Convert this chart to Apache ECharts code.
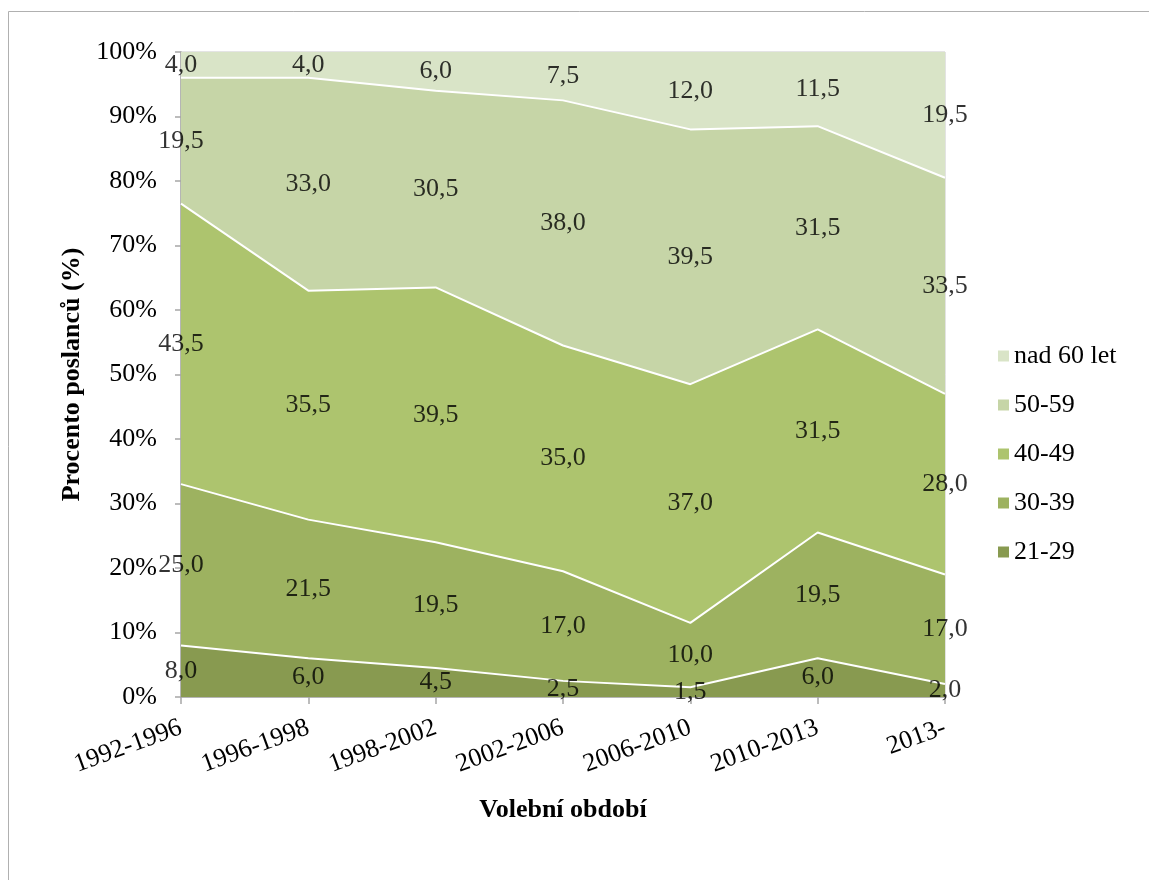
<!DOCTYPE html>
<html>
<head>
<meta charset="utf-8">
<script src="https://cdn.jsdelivr.net/npm/echarts@6/dist/echarts.min.js"></script>
<style>
html,body{margin:0;padding:0;background:#fff;}
#chart{width:1149px;height:880px;}
</style>
</head>
<body>
<div id="chart"></div>
<script>
const categories = ['1992-1996','1996-1998','1998-2002','2002-2006','2006-2010','2010-2013','2013-'];
const s2129 = [8.0, 6.0, 4.5, 2.5, 1.5, 6.0, 2.0];
const s3039 = [25.0, 21.5, 19.5, 17.0, 10.0, 19.5, 17.0];
const s4049 = [43.5, 35.5, 39.5, 35.0, 37.0, 31.5, 28.0];
const s5059 = [19.5, 33.0, 30.5, 38.0, 39.5, 31.5, 33.5];
const s60 = [4.0, 4.0, 6.0, 7.5, 12.0, 11.5, 19.5];
const seriesNames = ['21-29','30-39','40-49','50-59','nad 60 let'];
const seriesData = [s2129, s3039, s4049, s5059, s60];
const colors = ['#889a50','#9db260','#adc46e','#c6d5a7','#d9e4c7'];
const yTicks = [0,10,20,30,40,50,60,70,80,90,100];

const FONT = '"Liberation Serif","Times New Roman",serif';
const fmt = v => v.toFixed(1).replace('.', ',');

const series = [];
seriesData.forEach((d, i) => {
  series.push({
    name: seriesNames[i],
    type: 'line',
    stack: 'total',
    data: d,
    symbol: 'none',
    smooth: false,
    lineStyle: { color: i === 4 ? 'rgba(0,0,0,0)' : '#ffffff', width: 2 },
    itemStyle: { color: colors[i] },
    areaStyle: { color: colors[i], opacity: 1 },
    z: 2
  });
});
// label positions: middle of each stacked segment
const cum = categories.map(() => 0);
seriesData.forEach((d, i) => {
  const pts = d.map((v, j) => {
    const mid = cum[j] + v / 2;
    cum[j] += v;
    return [j, mid, v];
  });
  series.push({
    name: 'lbl' + i,
    type: 'scatter',
    data: pts,
    symbolSize: 0,
    silent: true,
    z: 10,
    label: {
      show: true,
      position: 'inside',
      formatter: p => fmt(p.data[2]),
      fontFamily: FONT,
      fontSize: 26,
      color: '#000'
    }
  });
});

const chart = echarts.init(document.getElementById('chart'));
chart.setOption({
  animation: false,
  backgroundColor: '#fff',
  graphic: [{
    type: 'rect',
    shape: { x: 8.5, y: 11.5, width: 1200, height: 1000 },
    style: { fill: 'none', stroke: '#b0b0b0', lineWidth: 1 },
    silent: true
  }],
  grid: {
    left: 181, right: 204, top: 52, bottom: 183,
    show: true, borderColor: '#c8c8c8', borderWidth: 1, backgroundColor: 'transparent'
  },
  legend: {
    orient: 'vertical',
    left: 993,
    top: 338,
    itemWidth: 11,
    itemHeight: 11,
    itemGap: 23,
    icon: 'rect',
    data: ['nad 60 let','50-59','40-49','30-39','21-29'],
    textStyle: { fontFamily: FONT, fontSize: 26, color: '#000' }
  },
  xAxis: {
    type: 'category',
    data: categories,
    boundaryGap: false,
    name: 'Volební období',
    nameLocation: 'middle',
    nameGap: 100,
    nameTextStyle: { fontFamily: FONT, fontSize: 26, fontWeight: 'bold', color: '#000' },
    axisLine: { lineStyle: { color: '#a6a6a6', width: 1.5 } },
    axisTick: { show: true, length: 7, lineStyle: { color: '#a6a6a6', width: 1.5 } },
    axisLabel: { rotate: 20, fontFamily: FONT, fontSize: 26, color: '#000', margin: 30 },
    splitLine: { show: false }
  },
  yAxis: {
    type: 'value',
    min: 0, max: 100, interval: 10,
    name: 'Procento poslanců (%)',
    nameLocation: 'middle',
    nameGap: 96,
    nameTextStyle: { fontFamily: FONT, fontSize: 26, fontWeight: 'bold', color: '#000' },
    axisLine: { show: true, lineStyle: { color: '#a6a6a6', width: 1.5 } },
    axisTick: { show: true, length: 6, lineStyle: { color: '#a6a6a6', width: 1.5 } },
    axisLabel: {
      fontFamily: FONT, fontSize: 26, color: '#000', margin: 24,
      formatter: v => yTicks.includes(v) ? v + '%' : ''
    },
    splitLine: { show: false }
  },
  series: series
});
</script>
</body>
</html>
